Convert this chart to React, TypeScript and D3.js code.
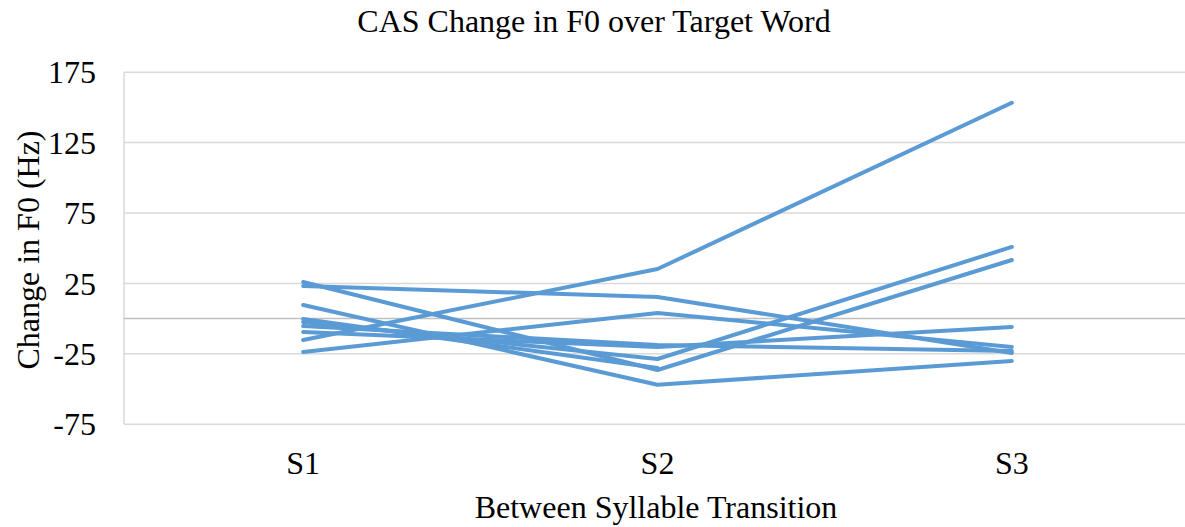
import React from "react";
import * as d3 from "d3";

const categories = ["S1", "S2", "S3"];
const yTicks = [-75, -25, 25, 75, 125, 175];
const series: (number | null)[][] = [
  [-15.2, 35.2, 153.3],
  [23.2, 15.3, -24.4],
  [26.0, -36.5, 41.6],
  [-0.3, -35.1, null],
  [-2.4, -28.7, 50.9],
  [-5.3, -18.8, -23.0],
  [-9.5, -20.2, -5.9],
  [9.7, -47.0, -30.1],
  [-23.7, 4.0, -20.2],
];

const W = 1185;
const H = 527;
const FONT = "'Liberation Serif', 'Times New Roman', serif";

export default function App() {
  const x = d3.scalePoint<string>().domain(categories).range([126, 1189]).padding(0.5);
  const y = d3.scaleLinear().domain([-75, 175]).range([424.2, 72.2]);
  const line = d3
    .line<number | null>()
    .defined((d) => d !== null)
    .x((_, i) => x(categories[i]) as number)
    .y((d) => y(d as number));

  return (
    <svg
      width={W}
      height={H}
      style={{ position: "absolute", left: 0, top: 0, background: "#fff" }}
      fontFamily={FONT}
    >
      <rect width={W} height={H} fill="#fff" />
      {yTicks.map((t) => (
        <g key={t}>
          <line x1={124} x2={W} y1={y(t)} y2={y(t)} stroke="#D9D9D9" strokeWidth={1.5} />
          <text x={96} y={y(t)} dy="0.35em" textAnchor="end" fontSize={32} fill="#000">
            {t}
          </text>
        </g>
      ))}
      <line x1={124} x2={124} y1={y(175)} y2={y(-75)} stroke="#D9D9D9" strokeWidth={1.5} />
      <line x1={124} x2={W} y1={y(0)} y2={y(0)} stroke="#BFBFBF" strokeWidth={1.5} />
      {series.map((s, i) => (
        <path
          key={i}
          d={line(s) || ""}
          fill="none"
          stroke="#5B9BD5"
          strokeWidth={4}
          strokeLinecap="round"
          strokeLinejoin="round"
        />
      ))}
      {categories.map((c) => (
        <text key={c} x={x(c)} y={474} textAnchor="middle" fontSize={32} fill="#000">
          {c}
        </text>
      ))}
      <text x={594} y={32} textAnchor="middle" fontSize={32} fill="#000">
        CAS Change in F0 over Target Word
      </text>
      <text x={656} y={518} textAnchor="middle" fontSize={32} fill="#000">
        Between Syllable Transition
      </text>
      <text
        transform={`translate(39, 250) rotate(-90)`}
        textAnchor="middle"
        fontSize={32}
        fill="#000"
      >
        Change in F0 (Hz)
      </text>
    </svg>
  );
}
